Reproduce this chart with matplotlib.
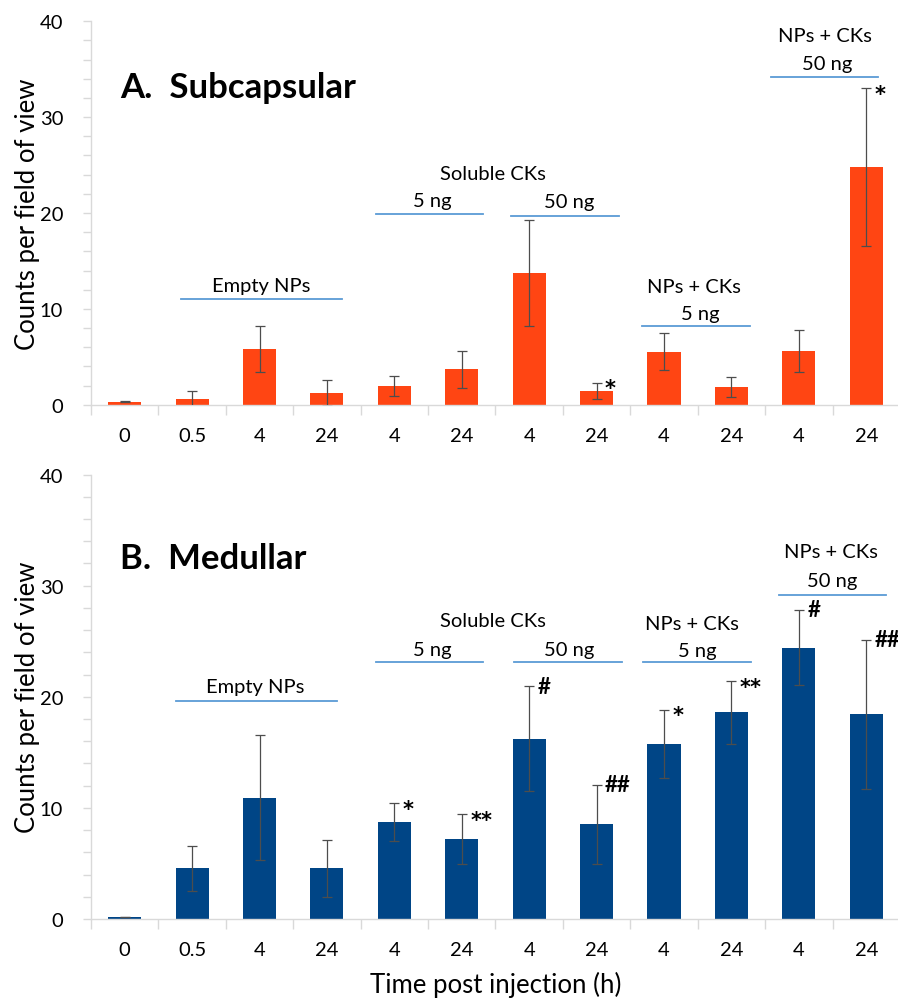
import numpy as np
import matplotlib.pyplot as plt

plt.rcParams['font.family'] = ['Lato', 'DejaVu Sans']

# categories (time post injection, h)
times = ['0', '0.5', '4', '24', '4', '24', '4', '24', '4', '24', '4', '24']

# A. Subcapsular
sub_mean = [0.3, 0.56, 5.85, 1.2, 1.95, 3.7, 13.75, 1.45, 5.55, 1.85, 5.6, 24.8]
sub_err = [0.05, 0.85, 2.4, 1.35, 1.0, 1.95, 5.55, 0.85, 1.95, 1.0, 2.2, 8.2]
sub_sig = {7: '*', 11: '*'}

# B. Medullar
med_mean = [0.18, 4.56, 10.92, 4.56, 8.7, 7.2, 16.23, 8.52, 15.75, 18.6, 24.42, 18.42]
med_err = [0.03, 2.0, 5.65, 2.55, 1.72, 2.25, 4.7, 3.55, 3.1, 2.82, 3.4, 6.72]
med_sig = {4: '*', 5: '**', 6: '#', 7: '##', 8: '*', 9: '**', 10: '#', 11: '##'}

# group brackets: (x start, x end, y)  and labels: (text, x, y)
sub_lines = [(0.84, 3.22, 11.0), (3.73, 5.32, 19.9), (5.73, 7.33, 19.7),
             (7.68, 9.28, 8.2), (9.58, 11.18, 34.2)]
sub_labels = [('Empty NPs', 2.03, 11.9), ('Soluble CKs', 5.46, 23.5),
              ('5 ng', 4.57, 20.7), ('50 ng', 6.6, 20.6),
              ('NPs + CKs', 8.45, 11.8), ('5 ng', 8.54, 8.9),
              ('NPs + CKs', 10.39, 37.9), ('50 ng', 10.42, 35.0)]
med_lines = [(0.76, 3.15, 19.6), (3.73, 5.32, 23.1), (5.78, 7.37, 23.15),
             (7.69, 9.29, 23.1), (9.70, 11.30, 29.15)]
med_labels = [('Empty NPs', 1.93, 20.4), ('Soluble CKs', 5.46, 26.4),
              ('5 ng', 4.57, 23.8), ('50 ng', 6.6, 23.8),
              ('NPs + CKs', 8.41, 26.1), ('5 ng', 8.49, 23.7),
              ('NPs + CKs', 10.48, 32.6), ('50 ng', 10.5, 30.0)]

fig = plt.figure(figsize=(8.98, 10.03), dpi=100)
ax1 = fig.add_axes([0.1013, 0.5955, 0.9009, 0.3823])
ax2 = fig.add_axes([0.1013, 0.0828, 0.9009, 0.4431])


def draw_panel(ax, mean, err, sig, color, title, title_y, lines, labels):
    x = np.arange(len(times))
    ax.bar(x, mean, width=0.49, color=color, edgecolor='none', zorder=2)
    ax.errorbar(x, mean, yerr=err, fmt='none', ecolor='#4d4d4d',
                elinewidth=0.9, capsize=3.5, capthick=0.9, zorder=3)
    for i, s in sig.items():
        if '*' in s:
            ax.annotate(s, (i, mean[i] + err[i]), xytext=(6, -4),
                        textcoords='offset points', ha='left', va='center',
                        fontsize=15, fontweight='bold', family='DejaVu Sans')
        else:
            ax.annotate(s, (i, mean[i] + err[i]), xytext=(6, 0),
                        textcoords='offset points', ha='left', va='center',
                        fontsize=16, fontweight='bold')
    for x0, x1, y in lines:
        ax.plot([x0, x1], [y, y], color='#5b9bd5', lw=1.3, clip_on=False)
    for txt, tx, ty in labels:
        ax.text(tx, ty, txt, ha='center', va='baseline', fontsize=14.5)
    ax.text(0.036, title_y, title, transform=ax.transAxes,
            fontsize=25, fontweight='bold', ha='left', va='baseline')

    ax.set_xlim(-0.5, 11.5)
    ax.set_ylim(0, 40)
    ax.set_xticks(x)
    ax.set_xticklabels(times)
    ax.set_xticks(np.arange(-0.5, 12, 1), minor=True)
    ax.set_yticks([0, 10, 20, 30, 40])
    ax.set_yticks(np.arange(0, 41, 2), minor=True)
    ax.tick_params(axis='x', which='major', length=0, pad=16, labelsize=14.5)
    ax.tick_params(axis='x', which='minor', length=7, width=1, color='#d9d9d9')
    ax.tick_params(axis='y', which='both', length=6, width=1, color='#d9d9d9',
                   labelsize=14.5, pad=14)
    for side in ['top', 'right']:
        ax.spines[side].set_visible(False)
    for side in ['left', 'bottom']:
        ax.spines[side].set_color('#d9d9d9')
        ax.spines[side].set_linewidth(1)
    ax.set_ylabel('Counts per field of view', fontsize=18.5, labelpad=0)


draw_panel(ax1, sub_mean, sub_err, sub_sig, '#ff4513', 'A.  Subcapsular', 0.8026,
           sub_lines, sub_labels)
draw_panel(ax2, med_mean, med_err, med_sig, '#004586', 'B.  Medullar', 0.79,
           med_lines, med_labels)

ax2.set_xlabel('Time post injection (h)', fontsize=18.5, labelpad=9)

fig.savefig('out.png', dpi=100)
